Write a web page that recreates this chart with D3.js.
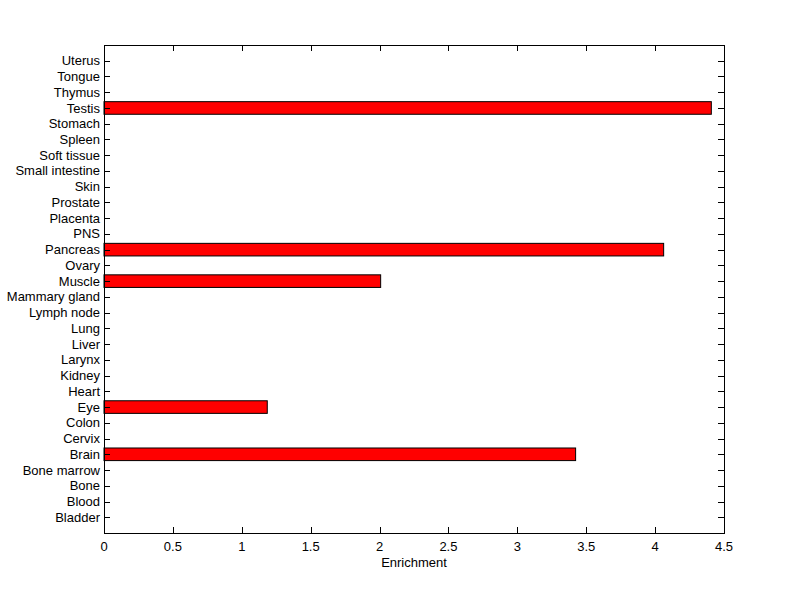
<!DOCTYPE html>
<html>
<head>
<meta charset="utf-8">
<script src="https://cdn.jsdelivr.net/npm/d3@7"></script>
<style>
  body { margin: 0; background: #fff; }
  svg text { font-family: "Liberation Sans", Arial, sans-serif; font-size: 13px; fill: #000; }
</style>
</head>
<body>
<div id="chart"></div>
<script>
// categories bottom to top
let tissues = ["Bladder", "Blood", "Bone", "Bone marrow", "Brain", "Cervix", "Colon", "Eye",
    "Heart", "Kidney", "Larynx", "Liver", "Lung", "Lymph node", "Mammary gland", "Muscle",
    "Ovary", "Pancreas", "PNS", "Placenta", "Prostate", "Skin", "Small intestine",
    "Soft tissue", "Spleen", "Stomach", "Testis", "Thymus", "Tongue", "Uterus"];
let enrichment = [0, 0, 0, 0, 3.423, 0, 0, 1.185,
    0, 0, 0, 0, 0, 0, 0, 2.008,
    0, 4.062, 0, 0, 0, 0, 0,
    0, 0, 0, 4.408, 0, 0, 0];
let xTicks = [0, 0.5, 1, 1.5, 2, 2.5, 3, 3.5, 4, 4.5];

let W = 800, H = 599;
let plotL = 104, plotR = 724, plotT = 45, plotB = 533;
let tickLen = 6;

var svg = d3.select("#chart").append("svg")
    .attr("width", W)
    .attr("height", H);

var x = d3.scaleLinear().domain([0, 4.5]).range([plotL, plotR]);
// matlab style: categories sit at 1..N, axis spans 0..N+1
var y = d3.scaleLinear().domain([0, tissues.length + 1]).range([plotB, plotT]);
var barH = 0.8 * (y(0) - y(1));

// bars
svg.selectAll("rect.bar")
    .data(tissues.map((t, i) => ({ t: t, v: enrichment[i], pos: i + 1 })).filter(d => d.v > 0))
    .enter().append("rect")
    .attr("class", "bar")
    .attr("x", x(0))
    .attr("y", d => y(d.pos) - barH / 2)
    .attr("width", d => x(d.v) - x(0))
    .attr("height", barH)
    .attr("fill", "#ff0000")
    .attr("stroke", "#000")
    .attr("stroke-width", 1);

// box
svg.append("rect")
    .attr("x", plotL + 0.5).attr("y", plotT + 0.5)
    .attr("width", plotR - plotL).attr("height", plotB - plotT)
    .attr("fill", "none").attr("stroke", "#000").attr("stroke-width", 1);

// x ticks (inward, bottom & top)
var g = svg.append("g").attr("stroke", "#000").attr("stroke-width", 1);
xTicks.forEach(t => {
    let px = Math.round(x(t)) + 0.5;
    g.append("line").attr("x1", px).attr("x2", px).attr("y1", plotB).attr("y2", plotB - tickLen);
    g.append("line").attr("x1", px).attr("x2", px).attr("y1", plotT).attr("y2", plotT + tickLen);
});
// y ticks (inward, left & right)
tissues.forEach((t, i) => {
    let py = Math.round(y(i + 1)) + 0.5;
    g.append("line").attr("x1", plotL).attr("x2", plotL + tickLen).attr("y1", py).attr("y2", py);
    g.append("line").attr("x1", plotR).attr("x2", plotR - tickLen).attr("y1", py).attr("y2", py);
});

// tick labels
svg.selectAll("text.xt")
    .data(xTicks)
    .enter().append("text")
    .attr("class", "xt")
    .attr("x", d => x(d))
    .attr("y", plotB + 18)
    .attr("text-anchor", "middle")
    .text(d => d);

svg.selectAll("text.yt")
    .data(tissues)
    .enter().append("text")
    .attr("class", "yt")
    .attr("x", plotL - 4)
    .attr("y", (d, i) => y(i + 1))
    .attr("dy", "0.35em")
    .attr("text-anchor", "end")
    .text(d => d);

svg.append("text")
    .attr("x", (plotL + plotR) / 2)
    .attr("y", plotB + 34)
    .attr("text-anchor", "middle")
    .text("Enrichment");
</script>
</body>
</html>
